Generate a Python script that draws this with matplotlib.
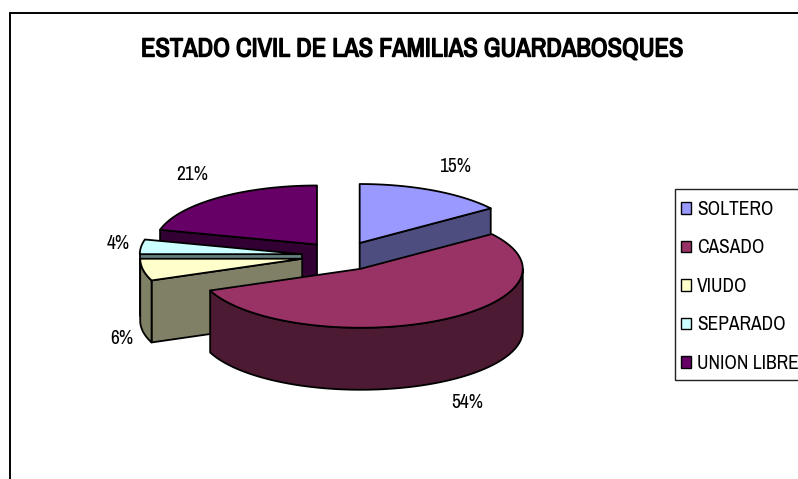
import numpy as np
import matplotlib
matplotlib.use("Agg")
import matplotlib.pyplot as plt
import matplotlib.patheffects as pe
from matplotlib.patches import Patch, Rectangle

plt.rcParams['font.family'] = ['Archivo Narrow', 'Liberation Sans', 'DejaVu Sans']

title = "ESTADO CIVIL DE LAS FAMILIAS GUARDABOSQUES"
categories = ["SOLTERO", "CASADO", "VIUDO", "SEPARADO", "UNION LIBRE"]
values = [15, 54, 6, 4, 21]
colors = ["#9999FF", "#993366", "#FFFFCC", "#CCFFFF", "#660066"]
side_colors = ["#4D4D80", "#4D1A33", "#808066", "#668080", "#330033"]
label_pos = [(455, 167), (467, 402), (122, 338), (118, 243), (192, 175)]

# pie geometry, in pixels
cx, cy = 341.5, 256
rx, ry = 162, 59
depth = 62
explode = 40 / 162


def point(a, ox, oy, r=1.0):
    # angle in degrees, clockwise from 12 o'clock
    t = np.radians(a)
    return ox + rx * r * np.sin(t), oy - ry * r * np.cos(t)


fig = plt.figure(figsize=(7.98, 4.79), dpi=100)
ax = fig.add_axes([0, 0, 1, 1])
ax.set_xlim(0, 798)
ax.set_ylim(479, 0)
ax.axis('off')

# outer frame runs off the right and bottom of the picture
ax.plot([10, 10, 800], [481, 13, 13], color='k', lw=1.4, solid_joinstyle='miter')

# wedge angles
edges = np.cumsum([0] + values) * 3.6
wedges = []
for i in range(len(values)):
    a1, a2 = edges[i], edges[i + 1]
    ox, oy = point((a1 + a2) / 2, cx, cy, explode)
    wedges.append((i, a1, a2, ox, oy))

# back to front
for k in [0, 4, 3, 2, 1]:
    i, a1, a2, ox, oy = wedges[k]
    style = dict(edgecolor='k', lw=1.3, joinstyle='round', zorder=2)

    # radial faces turned to the viewer
    for a, visible in [(a1, np.sin(np.radians(a1)) < 0), (a2, np.sin(np.radians(a2)) > 0)]:
        if visible:
            px, py = point(a, ox, oy)
            ax.fill([ox, px, px, ox], [oy, py, py + depth, oy + depth],
                    facecolor=side_colors[i], **style)

    # curved outer face
    b1, b2 = max(a1, 90), min(a2, 270)
    if b2 > b1:
        arc = np.linspace(b1, b2, 80)
        xs, ys = point(arc, ox, oy)
        ax.fill(np.r_[xs, xs[::-1]], np.r_[ys, ys[::-1] + depth],
                facecolor=side_colors[i], **style)

    # top face
    arc = np.linspace(a1, a2, 120)
    xs, ys = point(arc, ox, oy)
    ax.fill(np.r_[ox, xs], np.r_[oy, ys], facecolor=colors[i], **style)

for v, (x, y) in zip(values, label_pos):
    ax.text(x, y, f"{v}%", ha='center', va='center', fontsize=14, color='k')

# this font has no bold face, so thicken it with a stroke
t = ax.text(412, 49, title, ha='center', va='center', fontsize=19, color='k')
t.set_path_effects([pe.withStroke(linewidth=1.0, foreground='k')])

# legend box runs off the right edge too
ax.add_patch(Rectangle((675, 189), 130, 191, facecolor='w', edgecolor='#222222', lw=1.0))
handles = [Patch(facecolor=c, edgecolor='k', lw=1) for c in colors]
leg = ax.legend(handles, categories, loc='upper left', bbox_to_anchor=(681 / 798, 1 - 200 / 479),
                bbox_transform=fig.transFigure, fontsize=14, frameon=False, borderaxespad=0,
                borderpad=0, handlelength=0.52, handleheight=0.52, handletextpad=0.31,
                labelspacing=1.0)

fig.savefig("out.png", dpi=100)
